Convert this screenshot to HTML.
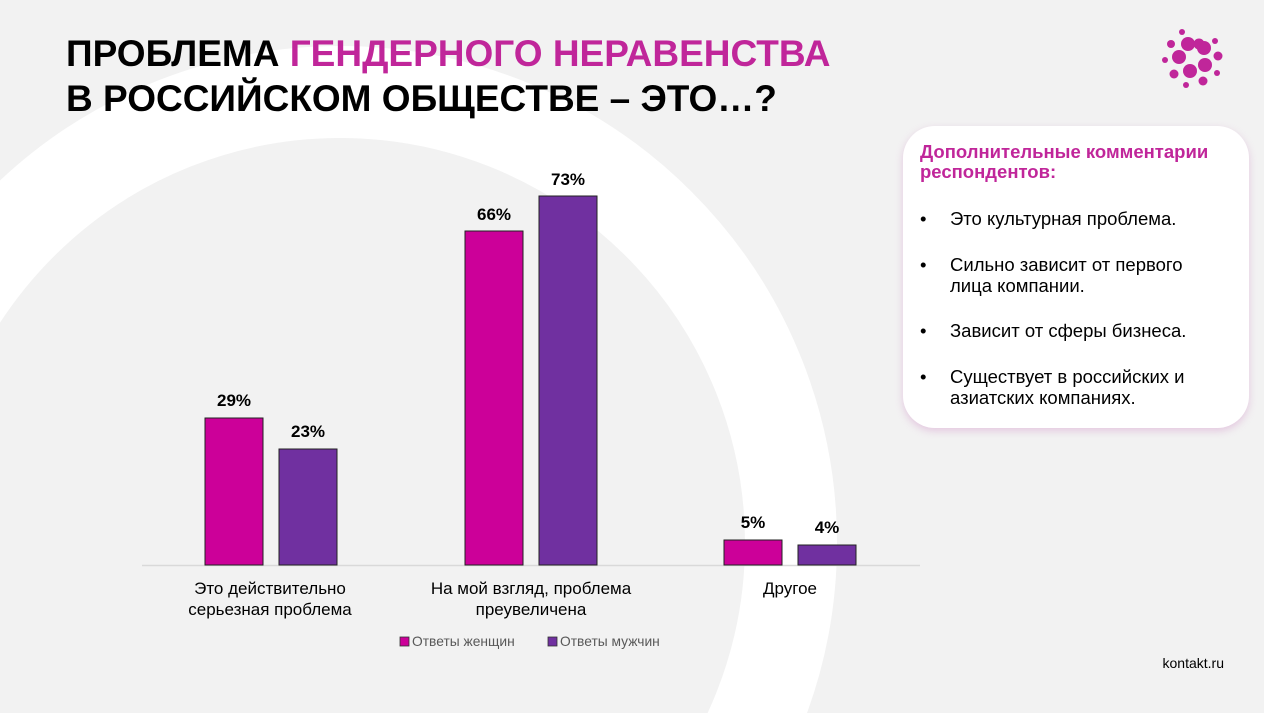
<!DOCTYPE html>
<html><head><meta charset="utf-8"><style>
html,body{margin:0;padding:0;overflow:hidden}
body{width:1264px;height:713px;background:#f2f2f2;position:relative;overflow:hidden;font-family:"Liberation Sans",sans-serif}
svg{position:absolute;left:0;top:0;overflow:hidden}
.t{position:absolute;left:66px;font-weight:bold;font-size:37px;color:#000;line-height:44px;white-space:nowrap}
.box{position:absolute;left:903px;top:126px;width:346px;height:302px;background:#fff;border-radius:32px;box-shadow:0 3px 8px rgba(200,120,190,0.35)}
.bh{position:absolute;left:17px;top:16px;color:#c0269a;font-weight:bold;font-size:18.5px;line-height:20px;white-space:nowrap}
.li{position:absolute;left:47px;font-size:18.5px;line-height:21px;color:#000;white-space:nowrap}
.li:before{content:"•";position:absolute;left:-30px}
</style></head><body>
<svg width="1264" height="713" viewBox="0 0 1264 713">
<circle cx="340" cy="543" r="451" fill="none" stroke="#fff" stroke-width="92"/>
<line x1="142" y1="565.5" x2="920" y2="565.5" stroke="#d9d9d9" stroke-width="1.5"/>
<g stroke="#222" stroke-width="1">
<rect x="205" y="418" width="58" height="147" fill="#cc0099"/>
<rect x="279" y="449" width="58" height="116" fill="#7030a0"/>
<rect x="465" y="231" width="58" height="334" fill="#cc0099"/>
<rect x="539" y="196" width="58" height="369" fill="#7030a0"/>
<rect x="724" y="540" width="58" height="25" fill="#cc0099"/>
<rect x="798" y="545" width="58" height="20" fill="#7030a0"/>
</g>
<g font-family="Liberation Sans,sans-serif" font-weight="bold" font-size="17" text-anchor="middle" fill="#000">
<text x="234" y="406">29%</text><text x="308" y="437">23%</text>
<text x="494" y="220">66%</text><text x="568" y="185">73%</text>
<text x="753" y="528">5%</text><text x="827" y="533">4%</text>
</g>
<g font-family="Liberation Sans,sans-serif" font-size="17" text-anchor="middle" fill="#000">
<text x="270" y="594">Это действительно</text><text x="270" y="615">серьезная проблема</text>
<text x="531" y="594">На мой взгляд, проблема</text><text x="531" y="615">преувеличена</text>
<text x="790" y="594">Другое</text>
</g>
<rect x="400" y="637" width="9" height="9" fill="#cc0099" stroke="#333" stroke-width="0.8"/>
<rect x="548" y="637" width="9" height="9" fill="#7030a0" stroke="#333" stroke-width="0.8"/>
<g font-family="Liberation Sans,sans-serif" font-size="13.8" fill="#595959">
<text x="412" y="646">Ответы женщин</text><text x="560" y="646">Ответы мужчин</text>
</g>
<text x="1224" y="668" font-family="Liberation Sans,sans-serif" font-size="14" text-anchor="end" fill="#000">kontakt.ru</text>
<g fill="#c0269a">
<circle cx="1199" cy="44" r="5.5"/><circle cx="1182" cy="32" r="3"/><circle cx="1171" cy="44" r="4"/>
<circle cx="1188" cy="44" r="7"/><circle cx="1204" cy="48" r="7"/><circle cx="1215" cy="41" r="3"/>
<circle cx="1179" cy="57" r="7"/><circle cx="1218" cy="56" r="4.5"/><circle cx="1165" cy="60" r="3"/>
<circle cx="1205" cy="65" r="7"/><circle cx="1190" cy="71" r="7"/><circle cx="1174" cy="74" r="4.5"/>
<circle cx="1217" cy="73" r="3"/><circle cx="1203" cy="81" r="4.5"/><circle cx="1186" cy="85" r="3"/>
</g>
</svg>
<div class="t" style="top:32px">ПРОБЛЕМА <span style="color:#c0269a">ГЕНДЕРНОГО НЕРАВЕНСТВА</span></div>
<div class="t" style="top:77px">В РОССИЙСКОМ ОБЩЕСТВЕ – ЭТО…?</div>
<div class="box">
<div class="bh">Дополнительные комментарии<br>респондентов:</div>
<div class="li" style="top:82px">Это культурная проблема.</div>
<div class="li" style="top:128px">Сильно зависит от первого<br>лица компании.</div>
<div class="li" style="top:194px">Зависит от сферы бизнеса.</div>
<div class="li" style="top:240px">Существует в российских и<br>азиатских компаниях.</div>
</div>
</body></html>
